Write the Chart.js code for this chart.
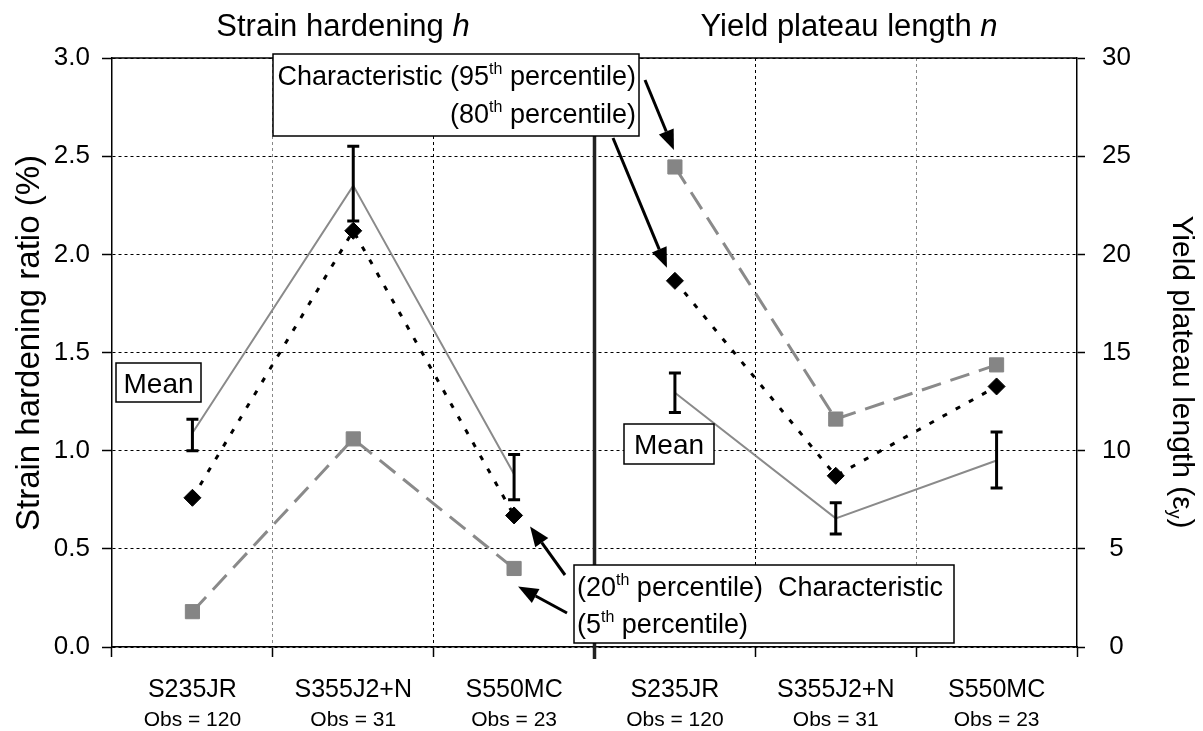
<!DOCTYPE html>
<html>
<head>
<meta charset="utf-8">
<script src="https://cdn.jsdelivr.net/npm/chart.js@4.4.1/dist/chart.umd.min.js"></script>
<style>
  html, body { margin: 0; padding: 0; background: #fff; }
  #wrap { width: 1203px; height: 731px; position: relative; }
</style>
</head>
<body>
<div id="wrap"><canvas id="c" width="1203" height="731"></canvas></div>
<script>
// Steel grades and number of observations
const grades = ['S235JR', 'S355J2+N', 'S550MC'];
const obsCounts = [120, 31, 23];
const categories = [...grades, ...grades]; // left half: h, right half: n

// Strain hardening h (%) — left axis
const hMean = [1.09, 2.35, 0.88];
const hMeanLow = [1.00, 2.17, 0.75];
const hMeanHigh = [1.16, 2.55, 0.98];
const hP20 = [0.76, 2.12, 0.67];
const hP5 = [0.18, 1.06, 0.40];

// Yield plateau length n (εy) — right axis
const nMean = [12.95, 6.55, 9.5];
const nMeanLow = [11.95, 5.75, 8.1];
const nMeanHigh = [13.95, 7.35, 10.95];
const nP80 = [18.65, 8.72, 13.27];
const nP95 = [24.45, 11.61, 14.37];

// Axis ranges
const hAxis = { min: 0, max: 3, step: 0.5 };
const nAxis = { min: 0, max: 30, step: 5 };

const FONT = "'Liberation Sans', Arial, Helvetica, sans-serif";
Chart.defaults.font.family = FONT;
Chart.defaults.color = '#000';

const leftHalf = v => [...v, null, null, null];
const rightHalf = v => [null, null, null, ...v];

const GRAY = '#8a8a8a';
const SQUARE = '#858585';

function meanSet(data, axis) {
  return { data, yAxisID: axis, borderColor: GRAY, borderWidth: 2, pointRadius: 0, fill: false, tension: 0 };
}
function lowSet(data, axis) {
  return { data, yAxisID: axis, borderColor: '#000', borderWidth: 3, borderDash: [5, 10],
    pointStyle: 'rectRot', pointRadius: 8.5, pointBackgroundColor: '#000', pointBorderColor: '#000',
    pointBorderWidth: 1, fill: false, tension: 0 };
}
function charSet(data, axis) {
  return { data, yAxisID: axis, borderColor: GRAY, borderWidth: 3, borderDash: [20, 10],
    pointStyle: 'rect', pointRadius: 10, pointBackgroundColor: SQUARE, pointBorderColor: SQUARE,
    pointBorderWidth: 1, fill: false, tension: 0 };
}

// ---- drawing helpers ----
function fontFor(p, size) {
  const s = (p.sup || p.sub) ? Math.round(size * 0.6) : size;
  return (p.it ? 'italic ' : '') + s + 'px ' + FONT;
}
function drawRich(ctx, parts, x, y, size, align) {
  const widths = parts.map(p => { ctx.font = fontFor(p, size); return ctx.measureText(p.t).width; });
  const total = widths.reduce((a, b) => a + b, 0);
  let cx = align === 'right' ? x - total : align === 'center' ? x - total / 2 : x;
  ctx.textAlign = 'left';
  parts.forEach((p, i) => {
    ctx.font = fontFor(p, size);
    const dy = p.sup ? -size * 0.42 : p.sub ? size * 0.22 : 0;
    ctx.fillText(p.t, cx, y + dy);
    cx += widths[i];
  });
}
function arrow(ctx, x1, y1, x2, y2) {
  const ang = Math.atan2(y2 - y1, x2 - x1);
  const len = 20, half = 8;
  const bx = x2 - len * Math.cos(ang), by = y2 - len * Math.sin(ang);
  ctx.save();
  ctx.strokeStyle = '#000'; ctx.fillStyle = '#000'; ctx.lineWidth = 3;
  ctx.beginPath(); ctx.moveTo(x1, y1); ctx.lineTo(bx, by); ctx.stroke();
  ctx.beginPath();
  ctx.moveTo(x2, y2);
  ctx.lineTo(bx + half * Math.sin(ang), by - half * Math.cos(ang));
  ctx.lineTo(bx - half * Math.sin(ang), by + half * Math.cos(ang));
  ctx.closePath(); ctx.fill();
  ctx.restore();
}
function box(ctx, x, y, w, h) {
  ctx.save();
  ctx.fillStyle = '#fff'; ctx.fillRect(x, y, w, h);
  ctx.strokeStyle = '#000'; ctx.lineWidth = 1.5; ctx.strokeRect(x, y, w, h);
  ctx.restore();
}
function errorBar(ctx, x, yLo, yHi) {
  ctx.save();
  ctx.strokeStyle = '#000'; ctx.lineWidth = 3;
  ctx.beginPath();
  ctx.moveTo(x, yLo); ctx.lineTo(x, yHi);
  ctx.moveTo(x - 6, yLo); ctx.lineTo(x + 6, yLo);
  ctx.moveTo(x - 6, yHi); ctx.lineTo(x + 6, yHi);
  ctx.stroke();
  ctx.restore();
}

const decor = {
  id: 'decor',
  afterDatasetsDraw(chart) {
    const { ctx, scales: { x, y, y1 } } = chart;
    grades.forEach((g, i) => {
      errorBar(ctx, x.getPixelForValue(i), y.getPixelForValue(hMeanLow[i]), y.getPixelForValue(hMeanHigh[i]));
      errorBar(ctx, x.getPixelForValue(i + 3), y1.getPixelForValue(nMeanLow[i]), y1.getPixelForValue(nMeanHigh[i]));
    });
  },
  afterDraw(chart) {
    const { ctx, chartArea: ca, scales: { x, y, y1 } } = chart;
    ctx.save();

    // top frame line
    ctx.strokeStyle = '#000'; ctx.lineWidth = 1.5;
    ctx.beginPath(); ctx.moveTo(ca.left, ca.top); ctx.lineTo(ca.right, ca.top); ctx.stroke();

    // separator between the two panels
    const sepX = (x.getPixelForValue(2) + x.getPixelForValue(3)) / 2;
    ctx.strokeStyle = '#222'; ctx.lineWidth = 3.5;
    ctx.beginPath(); ctx.moveTo(sepX, ca.top); ctx.lineTo(sepX, ca.bottom + 12); ctx.stroke();

    ctx.fillStyle = '#000';
    ctx.textBaseline = 'alphabetic';

    // panel titles
    drawRich(ctx, [{ t: 'Strain hardening ' }, { t: 'h', it: true }], 343, 36, 31, 'center');
    drawRich(ctx, [{ t: 'Yield plateau length ' }, { t: 'n', it: true }], 849, 36, 31, 'center');

    // observation counts under category names
    ctx.font = '21px ' + FONT; ctx.textAlign = 'center';
    categories.forEach((c, i) => {
      ctx.fillText('Obs = ' + obsCounts[i % 3], x.getPixelForValue(i), 726);
    });

    // axis titles
    ctx.save();
    ctx.translate(30, 343); ctx.rotate(-Math.PI / 2);
    ctx.font = '33px ' + FONT; ctx.textAlign = 'center'; ctx.textBaseline = 'middle';
    ctx.fillText('Strain hardening ratio (%)', 0, 0);
    ctx.restore();

    ctx.save();
    ctx.translate(1181, 372); ctx.rotate(Math.PI / 2);
    ctx.textBaseline = 'middle';
    drawRich(ctx, [{ t: 'Yield plateau length (ε' }, { t: 'y', sub: true }, { t: ')' }], 0, 0, 30, 'center');
    ctx.restore();

    // arrows pointing to the percentile markers
    const pN95 = { x: x.getPixelForValue(3), y: y1.getPixelForValue(nP95[0]) };
    const pN80 = { x: x.getPixelForValue(3), y: y1.getPixelForValue(nP80[0]) };
    const pH20 = { x: x.getPixelForValue(2), y: y.getPixelForValue(hP20[2]) };
    const pH5 = { x: x.getPixelForValue(2), y: y.getPixelForValue(hP5[2]) };
    arrow(ctx, 645, 80, pN95.x - 1, pN95.y - 17);
    arrow(ctx, 613, 138, pN80.x - 8, pN80.y - 13);
    arrow(ctx, 565, 575, pH20.x + 16, pH20.y + 11);
    arrow(ctx, 567, 613, pH5.x + 4, pH5.y + 18);

    // annotation boxes
    ctx.textBaseline = 'alphabetic';
    box(ctx, 273, 54, 366, 82);
    drawRich(ctx, [{ t: 'Characteristic (95' }, { t: 'th', sup: true }, { t: ' percentile)' }], 636, 85, 27, 'right');
    drawRich(ctx, [{ t: '(80' }, { t: 'th', sup: true }, { t: ' percentile)' }], 636, 123, 27, 'right');

    box(ctx, 574, 565, 380, 78);
    drawRich(ctx, [{ t: '(20' }, { t: 'th', sup: true }, { t: ' percentile)  Characteristic' }], 577, 596, 27, 'left');
    drawRich(ctx, [{ t: '(5' }, { t: 'th', sup: true }, { t: ' percentile)' }], 577, 633, 27, 'left');

    box(ctx, 116, 363, 85, 39);
    drawRich(ctx, [{ t: 'Mean' }], 158.5, 393, 28, 'center');
    box(ctx, 624, 424, 90, 40);
    drawRich(ctx, [{ t: 'Mean' }], 669, 454, 28, 'center');

    ctx.restore();
  }
};

const vGridColor = ['rgba(0,0,0,0)', '#888', '#000', 'rgba(0,0,0,0)', '#000', '#888', 'rgba(0,0,0,0)'];

new Chart(document.getElementById('c'), {
  type: 'line',
  data: {
    labels: categories,
    datasets: [
      meanSet(leftHalf(hMean), 'y'),
      lowSet(leftHalf(hP20), 'y'),
      charSet(leftHalf(hP5), 'y'),
      meanSet(rightHalf(nMean), 'y1'),
      lowSet(rightHalf(nP80), 'y1'),
      charSet(rightHalf(nP95), 'y1')
    ]
  },
  options: {
    responsive: false,
    animation: false,
    layout: { padding: { top: 58, left: 0, right: 0, bottom: 0 } },
    plugins: { legend: { display: false }, tooltip: { enabled: false } },
    scales: {
      x: {
        offset: true,
        grid: {
          offset: true,
          color: c => vGridColor[c.index] || 'rgba(0,0,0,0)',
          lineWidth: 1,
          tickLength: 10, tickColor: '#000', tickWidth: 1.5, tickBorderDash: []
        },
        border: { color: '#000', width: 1.5, dash: [3, 3] },
        ticks: { font: { size: 25 }, color: '#000', padding: 18, maxRotation: 0, autoSkip: false },
        afterFit: s => { s.height = 84; }
      },
      y: {
        position: 'left',
        min: hAxis.min, max: hAxis.max,
        ticks: { stepSize: hAxis.step, callback: v => Number(v).toFixed(1), font: { size: 26 }, color: '#000', padding: 12 },
        grid: { color: '#000', lineWidth: 1, tickLength: 10, tickColor: '#000', tickWidth: 1.5, tickBorderDash: [] },
        border: { color: '#000', width: 1.5, dash: [3, 3] },
        afterFit: s => { s.width = 112; }
      },
      y1: {
        position: 'right',
        min: nAxis.min, max: nAxis.max,
        ticks: { stepSize: nAxis.step, font: { size: 26 }, color: '#000', padding: 17, crossAlign: 'center' },
        grid: { drawOnChartArea: false, tickLength: 8, tickColor: '#000', tickWidth: 1.5, tickBorderDash: [] },
        border: { color: '#000', width: 1.5 },
        afterFit: s => { s.width = 126; }
      }
    }
  },
  plugins: [decor]
});
</script>
</body>
</html>
